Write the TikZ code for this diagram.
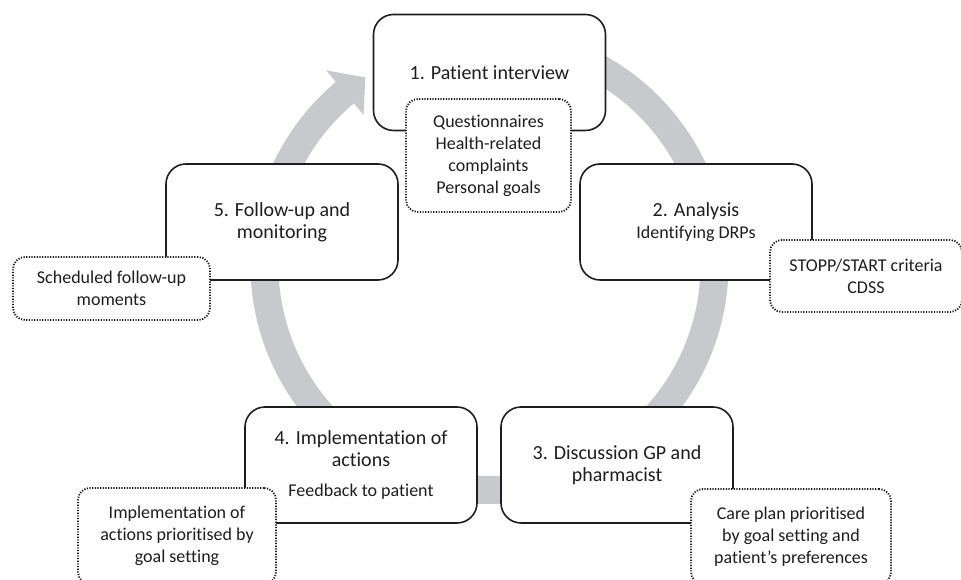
\documentclass[tikz,border=0pt]{standalone}
\usepackage{fontspec}
\setmainfont{Carlito}[Ligatures=NoCommon]
\usepackage{tikz}

\definecolor{anillo}{RGB}{199,201,204}
\definecolor{tinta}{RGB}{30,30,30}

\tikzset{
  paso/.style={draw=tinta, line width=1.2pt, rounded corners=15pt, fill=white,
    minimum width=174pt, minimum height=87pt, inner sep=0pt, align=center,
    text=tinta, font=\fontsize{15}{16.5}\selectfont},
  nota/.style={draw=tinta, line width=1.4pt, dash pattern=on 0.9pt off 1.1pt,
    rounded corners=9pt, fill=white, inner sep=0pt, align=center,
    text=tinta, font=\fontsize{13.5}{16.5}\selectfont}
}

% texto pequeño dentro de una caja grande
\newcommand{\detalle}[1]{{\fontsize{13.5}{16.5}\selectfont #1}}

\begin{document}
\begin{tikzpicture}[x=0.75pt, y=0.75pt]
% Marco de la imagen
\useasboundingbox (0,0) rectangle (961,580);

% Anillo gris: centro en (489.5,315)
% va en sentido horario desde 80 hasta -230 (= 130)
% y termina en una punta ancha que apunta a la caja 1
\begin{scope}[shift={(489.5,315)}]
\fill[anillo] (80:239) arc[start angle=80, end angle=-230, radius=239]
  -- (-230:254) -- (-236.5:225) -- (-230:196) -- (-230:211)
  arc[start angle=-230, end angle=80, radius=211] -- cycle;
\end{scope}

% Cajas de los cinco pasos
\node[paso] (interview) at (489.5,507.5) {1. Patient interview};
\node[paso] (analysis) at (696,358) {2. Analysis\\\detalle{Identifying DRPs}};
\node[paso] (discussion) at (617,115) {3. Discussion GP and\\pharmacist};
\node[paso] (implementation) at (361,115)
  {4. Implementation of\\actions\\[6pt]\detalle{Feedback to patient}};
\node[paso] (followup) at (282,358) {5. Follow-up and\\monitoring};

% Notas punteadas, encima de las cajas
\node[nota, minimum width=123.75pt, minimum height=84.75pt] (questionnaires)
  at (488.5,424.5) {Questionnaires\\Health-related\\complaints\\Personal goals};
\node[nota, minimum width=144pt, minimum height=54pt] (criteria)
  at (866,304) {STOPP/START criteria\\CDSS};
\node[nota, minimum width=150pt, minimum height=71.25pt] (careplan)
  at (791,43.5) {Care plan prioritised\\by goal setting and\\patient’s preferences};
\node[nota, minimum width=148.5pt, minimum height=72pt] (prioritised)
  at (177,44) {Implementation of\\actions prioritised by\\goal setting};
\node[nota, minimum width=147.75pt, minimum height=47.25pt] (scheduled)
  at (111.5,291.5) {Scheduled follow-up\\moments};
\end{tikzpicture}
\end{document}
